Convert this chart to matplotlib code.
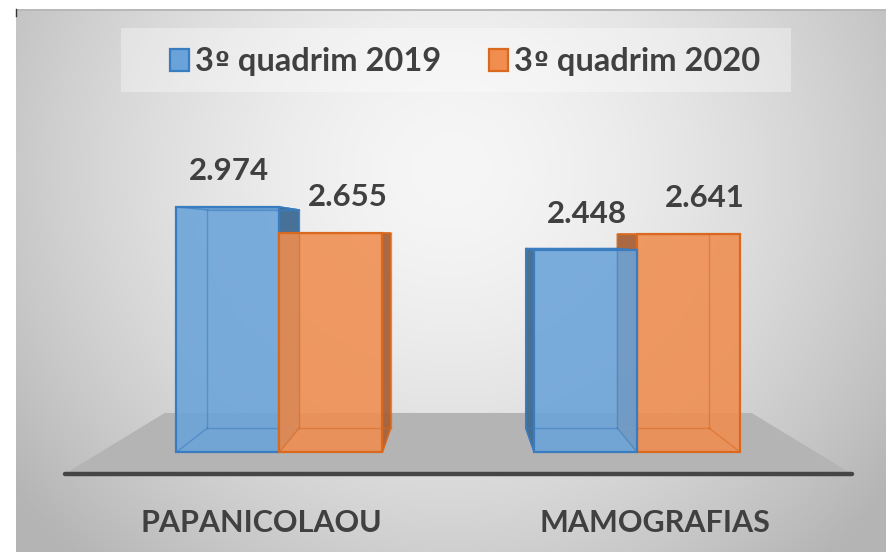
import numpy as np
import matplotlib
matplotlib.use('Agg')
import matplotlib.pyplot as plt
from matplotlib.patches import Polygon, Rectangle

# ---------------- data ----------------
categories = ['PAPANICOLAOU', 'MAMOGRAFIAS']
series_names = ['3º quadrim 2019', '3º quadrim 2020']
values_2019 = [2974, 2448]
values_2020 = [2655, 2641]

# ---------------- style ----------------
W, H, DPI = 886, 552, 100
FONT = ['Lato', 'DejaVu Sans']
TXT = '#404040'
front_col = {'2019': '#6aa3d9', '2020': '#f08d4f'}
side_col = {'2019': '#3f6a93', '2020': '#a8623a'}
edge_col = {'2019': '#3a7cc0', '2020': '#d9691f'}

plt.rcParams['font.family'] = FONT

fig = plt.figure(figsize=(W / DPI, H / DPI), dpi=DPI)
fig.patch.set_facecolor('white')

cv = fig.add_axes([0, 0, 1, 1], zorder=0)
cv.set_xlim(0, W)
cv.set_ylim(H, 0)
cv.axis('off')

ax = fig.add_axes([0, 0, 1, 1], zorder=1)
ax.patch.set_alpha(0)
ax.axis('off')
unit_px = 357.5
first_px = 279.5
px_per_val = 0.0824
base_px = 452
ax.set_xlim(-first_px / unit_px, (W - first_px) / unit_px)
ax.set_ylim(-(H - base_px) / px_per_val, base_px / px_per_val)

# ---------------- background ----------------
yy, xx = np.mgrid[9:H, 16:W].astype(float)
r = np.sqrt(((xx - 450) / 520) ** 2 + ((yy - 170) / 500) ** 2)
g = np.clip(246 - 60 * r ** 1.6, 180, 250) / 255.0
img = np.dstack([g, g, g])
cv.imshow(img, extent=(16, W, H, 9), aspect='auto', interpolation='bilinear', zorder=0)
cv.add_patch(Rectangle((16, 9), W - 16, 2, color='#b8b8b8', lw=0, zorder=1))
cv.plot([16.5, 16.5], [9, 16], color='#333333', lw=1, zorder=1)

V = np.array([458.0, 234.0])
K_BACK = 0.89


def to_px(x, y):
    d = ax.transData.transform((x, y))
    return np.array([d[0], H - d[1]])


def proj(p, s):
    return V + s * (np.asarray(p) - V)


# floor
fl, fr = -0.5, len(categories) - 0.5
p_l = to_px(fl, 0)
p_r = to_px(fr, 0)
S_FRONT, S_BACK = 1.10, 0.821
floor = [proj(p_l, S_BACK), proj(p_r, S_BACK), proj(p_r, S_FRONT), proj(p_l, S_FRONT)]
cv.add_patch(Polygon(floor, closed=True, fc='#b4b4b4', ec='none', zorder=2))
a0, a1 = proj(p_l, S_FRONT), proj(p_r, S_FRONT)
cv.plot([a0[0], a1[0]], [a0[1], a1[1]], color='#454545', lw=3.2,
        solid_capstyle='round', zorder=3)

# ---------------- bars ----------------
bw = 103 / unit_px


def draw_bar(xc, val, key, z):
    L, R = xc - bw / 2, xc + bw / 2
    fTL, fTR = to_px(L, val), to_px(R, val)
    fBL, fBR = to_px(L, 0), to_px(R, 0)
    bTL, bTR, bBL, bBR = [proj(p, K_BACK) for p in (fTL, fTR, fBL, fBR)]
    if fBR[0] < V[0]:
        side = [fTR, bTR, bBR, fBR]
    else:
        side = [fTL, bTL, bBL, fBL]
    top = [fTL, fTR, bTR, bTL]
    cv.add_patch(Polygon(side, closed=True, fc=side_col[key], ec=edge_col[key],
                         lw=1.0, alpha=0.95, zorder=z))
    cv.add_patch(Polygon(top, closed=True, fc=side_col[key], ec=edge_col[key],
                         lw=1.0, alpha=0.9, zorder=z))
    cv.add_patch(Polygon([fTL, fTR, fBR, fBL], closed=True, fc=front_col[key],
                         ec='none', alpha=0.88, zorder=z + 0.1))
    for a, b in [(bTL, bTR), (bTR, bBR), (bBR, bBL), (bBL, bTL),
                 (fTL, bTL), (fTR, bTR), (fBL, bBL), (fBR, bBR)]:
        cv.plot([a[0], b[0]], [a[1], b[1]], color=edge_col[key], lw=1.0,
                alpha=0.55, zorder=z + 0.2)
    cv.add_patch(Polygon([fTL, fTR, fBR, fBL], closed=True, fc='none',
                         ec=edge_col[key], lw=1.6, zorder=z + 0.3))


for i in range(len(categories)):
    xb, xo = i - bw / 2, i + bw / 2
    pc = to_px(i, 0)
    if pc[0] < V[0]:
        order = [(xb, values_2019[i], '2019'), (xo, values_2020[i], '2020')]
    else:
        order = [(xo, values_2020[i], '2020'), (xb, values_2019[i], '2019')]
    for j, (xc, v, key) in enumerate(order):
        draw_bar(xc, v, key, 4 + j)


def fmt(v):
    return f'{v:,}'.replace(',', '.')


for i in range(len(categories)):
    for xc, v, dx in [(i - bw / 2, values_2019[i], 1), (i + bw / 2, values_2020[i], 16.5)]:
        p = to_px(xc, v)
        cv.text(p[0] + dx, p[1] - 36, fmt(v), ha='center', va='center',
                fontsize=22.5, fontweight='bold', color=TXT, zorder=10)

for i, c in enumerate(categories):
    p = proj(to_px(i, 0), S_FRONT)
    cv.text(p[0], 523, c, ha='center', va='center', fontsize=22,
            fontweight='bold', color=TXT, zorder=10)

# ---------------- legend ----------------
cv.add_patch(Rectangle((121, 28), 670, 64, fc='white', ec='none', alpha=0.35, zorder=3))
renderer = fig.canvas.get_renderer()


def piece_text(x, y, s, fam, size):
    t = cv.text(x, y, s, ha='left', va='baseline', fontsize=size, fontweight='bold',
                color=TXT, family=fam, zorder=10)
    bb = t.get_window_extent(renderer=renderer)
    return x + bb.width


leg_items = [(170, series_names[0], '2019'), (489, series_names[1], '2020')]
for x0, name, key in leg_items:
    cv.add_patch(Rectangle((x0, 49), 19, 22, fc=front_col[key], ec=edge_col[key],
                           lw=1.6, zorder=10))
    head, rest = name.split('º', 1)
    x = piece_text(x0 + 25, 71, head, FONT, 23.5)
    x = piece_text(x + 1, 71, 'º', ['DejaVu Sans'], 19)
    piece_text(x, 71, rest, FONT, 23.5)

fig.savefig('out.png', dpi=DPI)
